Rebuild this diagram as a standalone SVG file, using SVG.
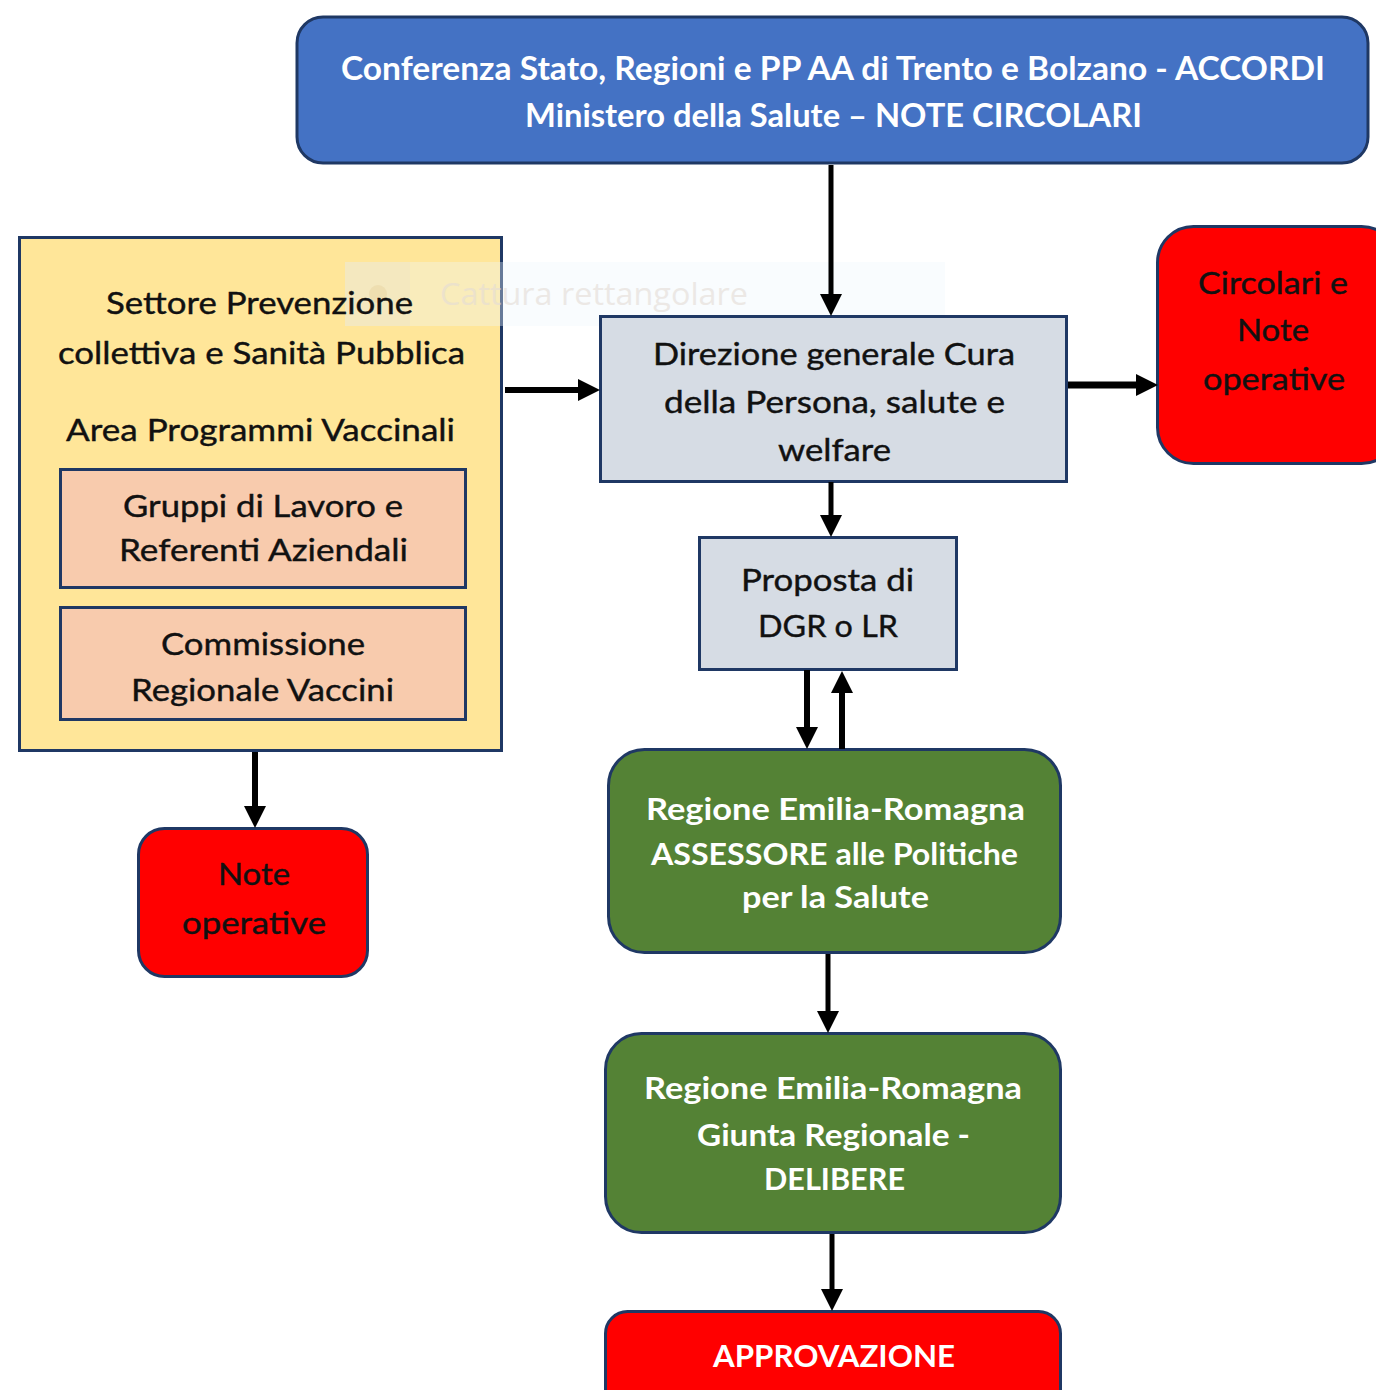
<svg xmlns="http://www.w3.org/2000/svg" width="1376" height="1390" viewBox="0 0 1376 1390">
<defs>
<marker id="ah" viewBox="0 0 10 10" refX="0" refY="5" markerWidth="22" markerHeight="22" markerUnits="userSpaceOnUse" orient="auto">
<path d="M0,0 L10,5 L0,10 z" fill="#000"/>
</marker>
<style>
.box{stroke:#1F3864;stroke-width:3}
.blue{fill:#4472C4}
.yellow{fill:#FFE699}
.peach{fill:#F8CBAD}
.grey{fill:#D6DCE4}
.red{fill:#FF0000}
.green{fill:#548235}
text{font-family:Lato,"Open Sans","Liberation Sans",sans-serif;text-anchor:middle}
.t{font-size:31px;fill:#111;stroke:#111;stroke-width:0.4}
.w{font-size:31px;fill:#fff;font-weight:bold}
.tw{font-size:33px;fill:#fff;font-weight:bold}
.conn{stroke:#000;fill:none;marker-end:url(#ah)}
</style>
</defs>
<rect width="1376" height="1390" fill="#fff"/>

<g id="conferenza">
<rect class="box blue" x="297" y="17" width="1071" height="146" rx="26"/>
<text class="tw" x="833" y="80" textLength="984" lengthAdjust="spacingAndGlyphs">Conferenza Stato, Regioni e PP AA di Trento e Bolzano - ACCORDI</text>
<text class="tw" x="833.5" y="127" textLength="617" lengthAdjust="spacingAndGlyphs">Ministero della Salute – NOTE CIRCOLARI</text>
</g>

<g id="settore">
<rect class="box yellow" x="19.5" y="237.5" width="482" height="513"/>
</g>

<g id="capture-overlay">
<rect x="345" y="262" width="600" height="64" fill="#EEF5FB" opacity="0.35"/>
<rect x="345" y="262" width="65" height="64" fill="#D8D8D8" opacity="0.15"/>
<circle cx="378" cy="294" r="9" fill="#E0C890" opacity="0.3"/>
<text x="594" y="305" style="font-size:31px;fill:#E4DCD6;font-family:'Open Sans','Liberation Sans',sans-serif" opacity="0.6" textLength="308" lengthAdjust="spacingAndGlyphs">Cattura rettangolare</text>
</g>

<g id="settore-text">
<text class="t" x="259.5" y="314" textLength="307" lengthAdjust="spacingAndGlyphs">Settore Prevenzione</text>
<text class="t" x="261.5" y="364" textLength="407" lengthAdjust="spacingAndGlyphs">collettiva e Sanità Pubblica</text>
<text class="t" x="260.5" y="441" textLength="389" lengthAdjust="spacingAndGlyphs">Area Programmi Vaccinali</text>
</g>

<g id="gruppi">
<rect class="box peach" x="60.5" y="469.5" width="405" height="118"/>
<text class="t" x="263" y="517" textLength="280" lengthAdjust="spacingAndGlyphs">Gruppi di Lavoro e</text>
<text class="t" x="263.5" y="561" textLength="289" lengthAdjust="spacingAndGlyphs">Referenti Aziendali</text>
</g>

<g id="commissione">
<rect class="box peach" x="60.5" y="607.5" width="405" height="112"/>
<text class="t" x="263" y="655" textLength="204" lengthAdjust="spacingAndGlyphs">Commissione</text>
<text class="t" x="262.5" y="701" textLength="263" lengthAdjust="spacingAndGlyphs">Regionale Vaccini</text>
</g>

<g id="direzione">
<rect class="box grey" x="600.5" y="316.5" width="466" height="165"/>
<text class="t" x="834" y="365" textLength="362" lengthAdjust="spacingAndGlyphs">Direzione generale Cura</text>
<text class="t" x="834.5" y="413" textLength="341" lengthAdjust="spacingAndGlyphs">della Persona, salute e</text>
<text class="t" x="834.5" y="461" textLength="113" lengthAdjust="spacingAndGlyphs">welfare</text>
</g>

<g id="circolari">
<rect class="box red" x="1157.5" y="226.5" width="240" height="237" rx="36"/>
<text class="t" x="1273" y="294" textLength="150" lengthAdjust="spacingAndGlyphs">Circolari e</text>
<text class="t" x="1273" y="341" textLength="72" lengthAdjust="spacingAndGlyphs">Note</text>
<text class="t" x="1274" y="390" textLength="142" lengthAdjust="spacingAndGlyphs">operative</text>
</g>

<g id="proposta">
<rect class="box grey" x="699.5" y="537.5" width="257" height="132"/>
<text class="t" x="827.5" y="591" textLength="173" lengthAdjust="spacingAndGlyphs">Proposta di</text>
<text class="t" x="828" y="637" textLength="140" lengthAdjust="spacingAndGlyphs">DGR o LR</text>
</g>

<g id="assessore">
<rect class="box green" x="608.5" y="749.5" width="452" height="203" rx="36"/>
<text class="w" x="835.5" y="820" textLength="379" lengthAdjust="spacingAndGlyphs">Regione Emilia-Romagna</text>
<text class="w" x="834.5" y="865" textLength="367" lengthAdjust="spacingAndGlyphs">ASSESSORE alle Politiche</text>
<text class="w" x="835.5" y="908" textLength="187" lengthAdjust="spacingAndGlyphs">per la Salute</text>
</g>

<g id="giunta">
<rect class="box green" x="605.5" y="1033.5" width="455" height="199" rx="36"/>
<text class="w" x="833" y="1099" textLength="378" lengthAdjust="spacingAndGlyphs">Regione Emilia-Romagna</text>
<text class="w" x="833.5" y="1146" textLength="273" lengthAdjust="spacingAndGlyphs">Giunta Regionale -</text>
<text class="w" x="834.5" y="1190" textLength="141" lengthAdjust="spacingAndGlyphs">DELIBERE</text>
</g>

<g id="approvazione">
<rect class="box red" x="605.5" y="1311.5" width="455" height="110" rx="22"/>
<text class="w" x="834" y="1367" textLength="242" lengthAdjust="spacingAndGlyphs">APPROVAZIONE</text>
</g>

<g id="note-operative">
<rect class="box red" x="138.5" y="828.5" width="229" height="148" rx="26"/>
<text class="t" x="254" y="885" textLength="72" lengthAdjust="spacingAndGlyphs">Note</text>
<text class="t" x="254" y="934" textLength="144" lengthAdjust="spacingAndGlyphs">operative</text>
</g>

<g id="connectors">
<line class="conn" x1="831" y1="165" x2="831" y2="294" stroke-width="5"/>
<line class="conn" x1="505" y1="390" x2="578" y2="390" stroke-width="6"/>
<line class="conn" x1="1068" y1="385" x2="1136" y2="385" stroke-width="7"/>
<line class="conn" x1="831" y1="482" x2="831" y2="515" stroke-width="5"/>
<line class="conn" x1="807" y1="670" x2="807" y2="727" stroke-width="6"/>
<line class="conn" x1="842" y1="749" x2="842" y2="693" stroke-width="6"/>
<line class="conn" x1="828" y1="954" x2="828" y2="1011" stroke-width="5"/>
<line class="conn" x1="832" y1="1234" x2="832" y2="1289" stroke-width="5"/>
<line class="conn" x1="255" y1="752" x2="255" y2="806" stroke-width="6"/>
</g>
</svg>
